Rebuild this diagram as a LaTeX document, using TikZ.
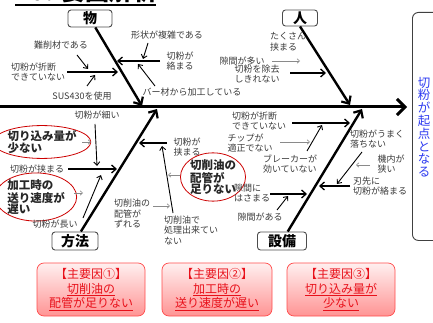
\documentclass[tikz,border=0pt]{standalone}
\usepackage{fontspec}
\setmainfont{Noto Sans CJK JP}
\usetikzlibrary{arrows.meta,shapes.geometric}
\definecolor{labc}{HTML}{3A3A3A}
\definecolor{thinc}{HTML}{8A8A8A}
\definecolor{boxred}{HTML}{E8101A}
\definecolor{resblue}{HTML}{2E3BF0}
\tikzset{
  lbl/.style={inner sep=0pt, text=labc, align=left, font=\fontsize{9}{10.5}\selectfont},
  oval/.style={ellipse, draw=red!80!black, line width=0.8pt, inner sep=0pt, align=left,
    font=\fontsize{11.5}{11}\selectfont\bfseries, text=black!85},
  catbox/.style={draw=black!70, rounded corners=3pt, line width=0.9pt, inner sep=0pt,
    font=\fontsize{14}{14}\selectfont\bfseries},
  spine/.style={line width=3pt, -{Straight Barb[length=8pt,width=16pt,line width=3pt]}},
  bone/.style={line width=2.4pt, -{Straight Barb[length=6pt,width=11pt,line width=2.2pt]}},
  subarrow/.style={line width=1.7pt, -{Straight Barb[length=4.5pt,width=8pt,line width=1.3pt]}},
  pointer/.style={line width=0.9pt, -{Straight Barb[length=3.5pt,width=6pt,line width=0.9pt]}},
  faint/.style={draw=thinc, line width=0.6pt, -{Straight Barb[length=2.5pt,width=4.5pt,line width=0.6pt]}},
  cause/.style={draw=red!70, rounded corners=7pt, line width=0.7pt, top color=red!6, bottom color=red!42,
    minimum width=108pt, minimum height=53pt, inner sep=0pt, align=center, text=boxred,
    font=\fontsize{12}{14.5}\selectfont}
}
\begin{document}
\begin{tikzpicture}[x=1pt,y=-1pt]
\useasboundingbox (0,0) rectangle (433,323);
% title (cut off at top)
\node[anchor=base west, inner sep=0pt, font=\fontsize{24}{24}\selectfont\bfseries] (title) at (16,1) {10. 要因解析};
\coordinate (ulA) at (15,5);
\coordinate (ulB) at (156,5);
\draw[line width=1.6pt] (ulA) -- (ulB);

% result box
\node[draw=black!75, line width=0.9pt, rounded corners=6pt, minimum width=40pt, minimum height=228pt, anchor=north west] (res) at (412,12) {};
\node[inner sep=0pt, align=center, text=resblue, font=\fontsize{12.5}{12.8}\selectfont] (restext) at (424,127) {切\\粉\\が\\起\\点\\と\\な\\る};

% spine
\coordinate (sp0) at (0,107);
\coordinate (sp1) at (407,107);
\draw[spine] (sp0) -- (sp1);

% categories
\node[catbox, minimum width=44pt, minimum height=17pt] (mono) at (90,18.5) {物};
\node[catbox, minimum width=35pt, minimum height=16pt] (hito) at (300,18) {人};
\node[catbox, minimum width=46pt, minimum height=18pt] (hoho) at (75,241) {方法};
\node[catbox, minimum width=49pt, minimum height=18pt] (setsu) at (282,241) {設備};

\coordinate (monoE) at (142,106);
\coordinate (hitoE) at (350,105);
\coordinate (hohoE) at (157,109);
\coordinate (setsuE) at (362,109);
\draw[bone] (mono) -- (monoE);
\draw[bone] (hito.south) -- (hitoE);
\draw[bone] (hoho) -- (hohoE);
\draw[bone] (setsu) -- (setsuE);

% ---- 物 ----
\node[lbl] (m1) at (38,72) {切粉が折断\\できていない};
\coordinate (m1a) at (67,72); \coordinate (m1b) at (118,72);
\draw[subarrow] (m1a) -- (m1b);
\node[lbl] (m2) at (61,45) {難削材である};
\coordinate (m2a) at (77,55); \coordinate (m2b) at (88,69);
\draw[pointer] (m2a) -- (m2b);
\node[lbl] (m3) at (82,96) {SUS430を使用};
\coordinate (m3a) at (87,86); \coordinate (m3b) at (95,75);
\draw[pointer] (m3a) -- (m3b);
\node[lbl] (m4) at (180,61) {切粉が\\絡まる};
\coordinate (m4a) at (160,61); \coordinate (m4b) at (117,61);
\draw[subarrow] (m4a) -- (m4b);
\node[lbl] (m5) at (167,35) {形状が複雑である};
\coordinate (m5a) at (148,43); \coordinate (m5b) at (143,59);
\draw[pointer] (m5a) -- (m5b);
\node[lbl] (m6) at (192,92) {バー材から加工している};
\coordinate (m6a) at (155,86); \coordinate (m6b) at (138,64);
\draw[pointer] (m6a) -- (m6b);

% ---- 人 ----
\node[lbl] (h1) at (288,42) {たくさん\\挟まる};
\node[lbl] (h2) at (242,61) {隙間が多い};
\coordinate (h2a) at (272,61); \coordinate (h2b) at (300,61);
\draw[faint] (h2a) -- (h2b);
\node[lbl] (h3) at (257,74) {切粉を除去\\しきれない};
\coordinate (h3a) at (290,73); \coordinate (h3b) at (326,73);
\draw[subarrow] (h3a) -- (h3b);

% ---- 方法 ----
\node[lbl] (p1) at (97,115) {切粉が細い};
\coordinate (p1a) at (95,124); \coordinate (p1b) at (97,166);
\draw[pointer] (p1a) -- (p1b);
\node[lbl] (p2) at (37,169) {切粉が挟まる};
\coordinate (p2a) at (68,169); \coordinate (p2b) at (117,169);
\draw[subarrow] (p2a) -- (p2b);
\node[oval, minimum width=78pt, minimum height=31pt] (e1) at (42,142) {切り込み量が\\少ない};
\coordinate (e1a) at (82,142); \coordinate (e1b) at (91,142);
\draw[faint] (e1a) -- (e1b);
\node[oval, minimum width=76pt, minimum height=48pt] (e2) at (36,197) {加工時の\\送り速度が\\遅い};
\coordinate (e2a) at (74,193); \coordinate (e2b) at (83,193);
\draw[faint] (e2a) -- (e2b);
\node[lbl] (p3) at (55,224) {切粉が長い};
\coordinate (p3a) at (83,218); \coordinate (p3b) at (101,175);
\draw[pointer] (p3a) -- (p3b);
\node[lbl] (p4) at (187,147) {切粉が\\挟まる};
\coordinate (p4a) at (167,143); \coordinate (p4b) at (139,143);
\draw[subarrow] (p4a) -- (p4b);
\node[lbl] (p5) at (191,230) {切削油で\\処理出来てい\\ない};
\coordinate (p5a) at (173,213); \coordinate (p5b) at (162,146);
\draw[pointer] (p5a) -- (p5b);
\node[lbl] (p6) at (132,214) {切削油の\\配管が\\ずれる};
\coordinate (p6a) at (153,206); \coordinate (p6b) at (170,206);
\draw[faint] (p6a) -- (p6b);
\node[oval, minimum width=64pt, minimum height=40pt] (e3) at (213,177) {切削油の\\配管が\\足りない};
\coordinate (e3a) at (180,175); \coordinate (e3b) at (168,175);
\draw[faint] (e3a) -- (e3b);

% ---- 設備 ----
\node[lbl] (s1) at (259,121) {切粉が折断\\できていない};
\coordinate (s1a) at (292,123); \coordinate (s1b) at (350,123);
\draw[subarrow] (s1a) -- (s1b);
\node[lbl] (s2) at (250,143) {チップが\\適正でない};
\coordinate (s2a) at (280,142); \coordinate (s2b) at (310,142);
\draw[faint] (s2a) -- (s2b);
\node[lbl] (s3) at (290,164) {ブレーカーが\\効いていない};
\coordinate (s3a) at (307,151); \coordinate (s3b) at (322,125);
\draw[pointer] (s3a) -- (s3b);
\node[lbl] (s4) at (377,139) {切粉がうまく\\落ちない};
\coordinate (s4a) at (362,152); \coordinate (s4b) at (337,184);
\draw[pointer] (s4a) -- (s4b);
\node[lbl] (s5) at (391,164) {機内が\\狭い};
\coordinate (s5a) at (370,165); \coordinate (s5b) at (356,165);
\draw[faint] (s5a) -- (s5b);
\node[lbl] (s6) at (380,186) {刃先に\\切粉が絡まる};
\coordinate (s6a) at (350,186); \coordinate (s6b) at (319,186);
\draw[subarrow] (s6a) -- (s6b);
\node[lbl] (s7) at (252,193) {隙間に\\はさまる};
\coordinate (s7a) at (270,194); \coordinate (s7b) at (307,194);
\draw[subarrow] (s7a) -- (s7b);
\node[lbl] (s8) at (260,217) {隙間がある};
\coordinate (s8a) at (277,210); \coordinate (s8b) at (288,196);
\draw[pointer] (s8a) -- (s8b);

% ---- main causes ----
\node[cause] (c1) at (91,289.5) {【主要因①】\\\underline{切削油の}\\\underline{配管が足りない}};
\node[cause, minimum width=110pt] (c2) at (217,289.5) {【主要因②】\\\underline{加工時の}\\\underline{送り速度が遅い}};
\node[cause] (c3) at (341,289.5) {【主要因③】\\\underline{切り込み量が}\\\underline{少ない}};
\end{tikzpicture}
\end{document}
